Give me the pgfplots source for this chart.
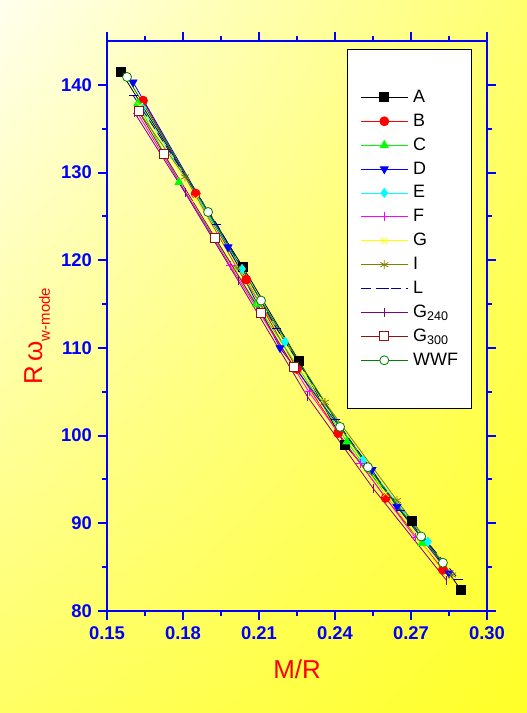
\documentclass[border=0pt]{standalone}
\usepackage{fontspec}
\setmainfont{Liberation Sans}
\usepackage{pgfplots}
\pgfplotsset{compat=1.18}
\usetikzlibrary{shadings}
\definecolor{bgA}{RGB}{255,255,238}
\definecolor{bgB}{RGB}{255,255,110}
\definecolor{bgC}{RGB}{255,255,100}
\definecolor{bgD}{RGB}{255,255,40}
\definecolor{cA}{RGB}{0,0,0}
\definecolor{cB}{RGB}{255,0,0}
\definecolor{cC}{RGB}{0,255,0}
\definecolor{cD}{RGB}{0,0,255}
\definecolor{cE}{RGB}{0,255,255}
\definecolor{cF}{RGB}{255,0,255}
\definecolor{cG}{RGB}{255,255,0}
\definecolor{cI}{RGB}{128,128,0}
\definecolor{cL}{RGB}{0,0,160}
\definecolor{cGa}{RGB}{128,0,128}
\definecolor{cGb}{RGB}{140,20,20}
\definecolor{cW}{RGB}{0,128,0}
\begin{document}
\begin{tikzpicture}
\useasboundingbox (0bp,0bp) rectangle (527bp,713bp);
\shade[upper left=bgA, upper right=bgB, lower left=bgC, lower right=bgD] (0bp,0bp) rectangle (527bp,713bp);
\begin{axis}[at={(107bp,102bp)}, anchor=south west, scale only axis,
  width=380bp, height=570bp,
  xmin=0.15, xmax=0.30, ymin=80, ymax=145,
  xtick={0.15,0.18,0.21,0.24,0.27,0.30}, ytick={80,90,100,110,120,130,140},
  minor x tick num=1, minor y tick num=1,
  xtick pos=both, ytick pos=both, xticklabel pos=left, yticklabel pos=left, tick align=outside,
  major tick length=9bp, minor tick length=5bp,
  tick style={blue, line width=2bp},
  axis line style={blue, line width=2.5bp},
  /pgf/number format/assume math mode=true,
  xticklabel style={/pgf/number format/.cd, fixed, fixed zerofill, precision=2, /tikz/.cd, font=\fontsize{18.5}{18.5}\selectfont\bfseries, text=blue, inner sep=0pt, yshift=-6bp},
  yticklabel style={font=\fontsize{18.5}{18.5}\selectfont\bfseries, text=blue, inner sep=0pt, xshift=-6bp},
  xlabel={M/R}, ylabel={R\,ω\raisebox{-0.3em}{\fontsize{15}{15}\selectfont w-mode}},
  xlabel style={at={(axis description cs:0.5,-0.1193)}, anchor=base, font=\fontsize{26}{26}\selectfont, text=red},
  ylabel style={at={(axis description cs:-0.171,0.482)}, anchor=base, font=\fontsize{26}{26}\selectfont, text=red},
  every axis plot/.append style={line width=0.8bp, mark size=4.5bp},
  legend image code/.code={\draw[mark repeat=2,mark phase=2,#1] plot coordinates {(0bp,0bp) (23.5bp,0bp) (47bp,0bp)};},
  legend cell align=left,
  legend style={at={(0.6316,0.986)}, anchor=north west, draw=black, line width=0.8bp, fill=white,
    inner xsep=13bp, inner ysep=40bp, row sep=7.9bp, column sep=5bp,
    font=\fontsize{18}{18}\selectfont,
    nodes={inner sep=0pt, text height=13bp, text depth=3bp}},
]
\addplot[cA, mark=square*, mark options={solid, fill=cA}] coordinates {(0.1555,141.5) (0.2037,119.2) (0.2258,108.5) (0.2440,98.9) (0.2704,90.3) (0.2897,82.4)};
\addlegendentry{A}
\addplot[cB, mark=*, mark options={solid, fill=cB}] coordinates {(0.1642,138.2) (0.1850,127.6) (0.2050,117.8) (0.2250,107.6) (0.2412,100.3) (0.2600,92.9) (0.2826,84.7)};
\addlegendentry{B}
\addplot[cC, mark=triangle*, mark options={solid, fill=cC}] coordinates {(0.1622,137.9) (0.1784,128.9) (0.2090,115.0) (0.2447,99.3) (0.2743,87.7)};
\addlegendentry{C}
\addplot[cD, mark=triangle*, mark options={solid, fill=cD, rotate=180}] coordinates {(0.1603,140.3) (0.1978,121.5) (0.2183,110.0) (0.2546,96.1) (0.2645,91.9) (0.2850,84.3)};
\addlegendentry{D}
\addplot[cE, mark=diamond*, mark options={solid, fill=cE}] coordinates {(0.1638,137.4) (0.2033,119.0) (0.2203,110.7) (0.2510,97.2) (0.2767,87.9)};
\addlegendentry{E}
\addplot[cF, mark=+, mark options={solid}] coordinates {(0.1620,136.8) (0.1986,119.4) (0.2297,105.0) (0.2500,96.8) (0.2716,88.4)};
\addlegendentry{F}
\addplot[cG, mark=x, mark options={solid}] coordinates {(0.1630,137.6) (0.1850,127.0) (0.2100,115.3) (0.2350,104.0) (0.2600,93.4) (0.2854,83.3)};
\addlegendentry{G}
\addplot[cI, mark=asterisk, mark options={solid}] coordinates {(0.1627,136.9) (0.1808,129.5) (0.2013,119.1) (0.2360,103.8) (0.2645,92.6) (0.2862,84.1)};
\addlegendentry{I}
\addplot[cL, dash pattern=on 10bp off 5bp, mark=-, mark options={solid}] coordinates {(0.1603,138.8) (0.1934,124.1) (0.2170,112.2) (0.2400,101.9) (0.2657,91.5) (0.2889,83.6)};
\addlegendentry{L}
\addplot[cGa, mark=|, mark options={solid}] coordinates {(0.1607,136.9) (0.1808,127.7) (0.2017,117.7) (0.2290,104.5) (0.2550,94.0) (0.2840,83.5)};
\addlegendentry{G\textsubscript{240}}
\addplot[cGb, mark=square*, mark options={solid, fill=white}] coordinates {(0.1625,137.0) (0.1725,132.1) (0.1926,122.6) (0.2108,114.0) (0.2238,107.8)};
\addlegendentry{G\textsubscript{300}}
\addplot[cW, mark=*, mark options={solid, fill=white}] coordinates {(0.1579,140.9) (0.1899,125.5) (0.2108,115.4) (0.2420,101.0) (0.2530,96.4) (0.2740,88.5) (0.2826,85.5)};
\addlegendentry{WWF}
\end{axis}
\end{tikzpicture}
\end{document}
